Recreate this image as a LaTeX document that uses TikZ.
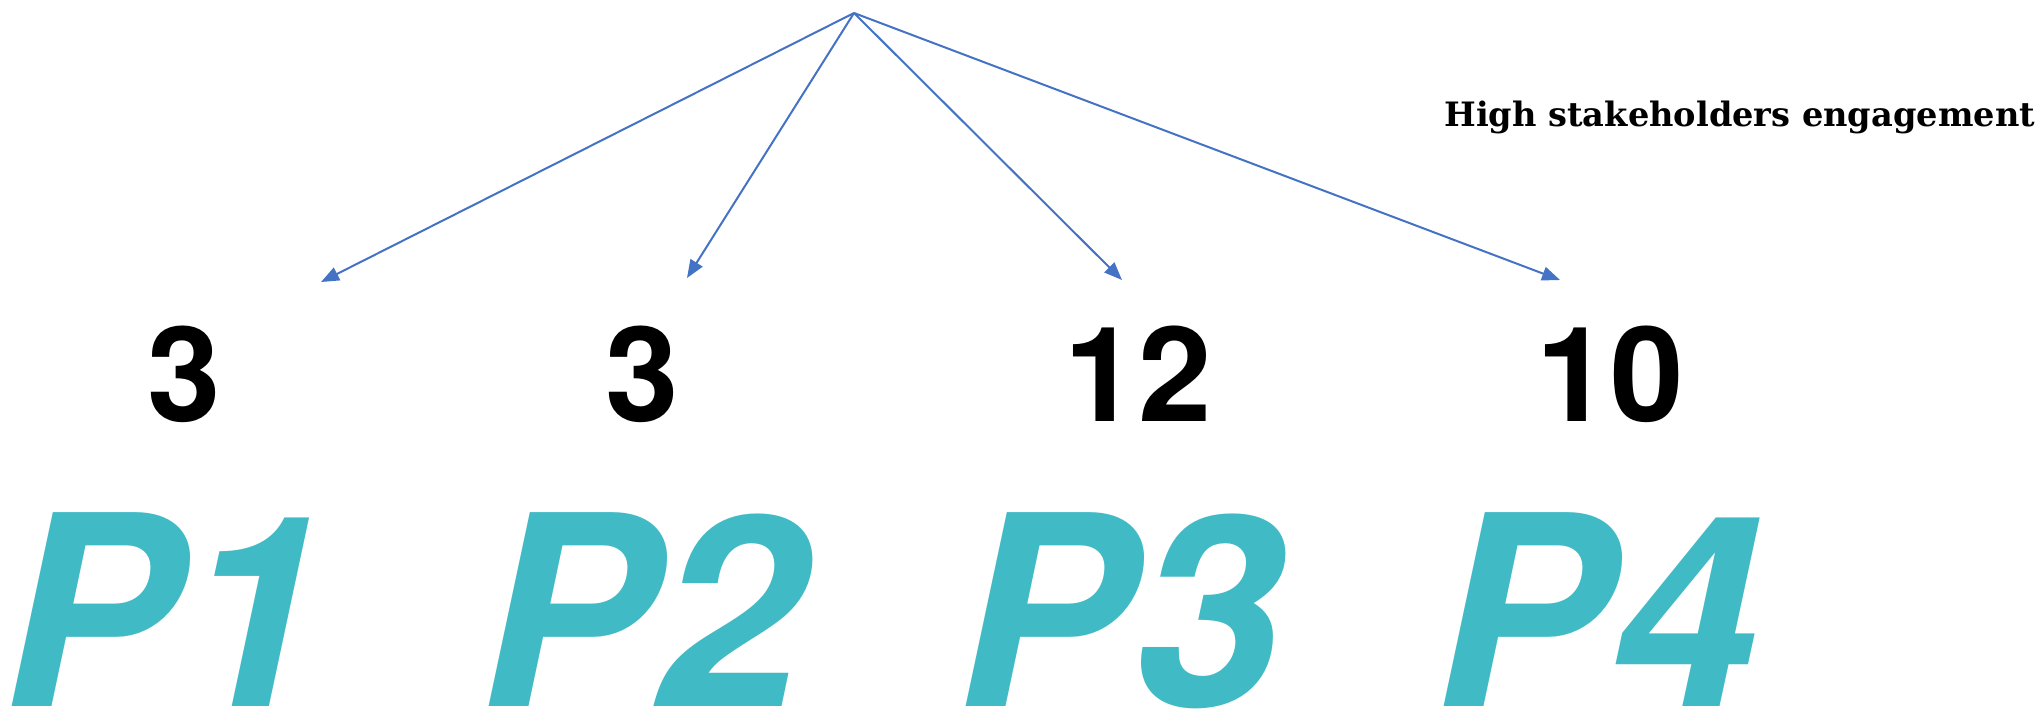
\documentclass[tikz,border=0pt]{standalone}
\usepackage{fontspec}
\setmainfont{TeX Gyre Heros}
\newfontfamily\headfont{DejaVu Serif}
\usetikzlibrary{arrows.meta}
\definecolor{arrowblue}{HTML}{4472C4}
\definecolor{tealtext}{HTML}{40BAC4}

\begin{document}
\begin{tikzpicture}[x=0.5pt,y=-0.5pt,
	link/.style={draw=arrowblue,line width=1pt,-{Triangle[length=9pt,width=7pt]}},
	count/.style={anchor=base,inner sep=0pt,font=\bfseries\fontsize{66}{66}\selectfont},
	plabel/.style={anchor=base,inner sep=0pt,text=tealtext,font=\bfseries\itshape\fontsize{133}{133}\selectfont}]
		%%%%% START %%%%%
		\useasboundingbox (0,0) rectangle (2044,708);
		
		\node[anchor=base west,inner sep=0pt,font=\headfont\bfseries\fontsize{16.8}{16.8}\selectfont] (head) at (1444,126) {High stakeholders engagement};
		
		\coordinate (apex) at (854,13);
		\coordinate (t1) at (321,282);
		\coordinate (t2) at (687,278);
		\coordinate (t3) at (1122,280);
		\coordinate (t4) at (1560,280);
		
		\draw[link] (apex) -- (t1);
		\draw[link] (apex) -- (t2);
		\draw[link] (apex) -- (t3);
		\draw[link] (apex) -- (t4);
		
		\node[count] (n1) at (184,421) {3};
		\node[count] (n2) at (642,421) {3};
		\node[count] (n3) at (1138,421) {12};
		\node[count] (n4) at (1610,421) {10};
		
		\node[plabel] (p1) at (165,706) {P1};
		\node[plabel] (p2) at (642,706) {P2};
		\node[plabel] (p3) at (1119,706) {P3};
		\node[plabel] (p4) at (1597,706) {P4};
		%%%%% END %%%%%
\end{tikzpicture}
\end{document}
